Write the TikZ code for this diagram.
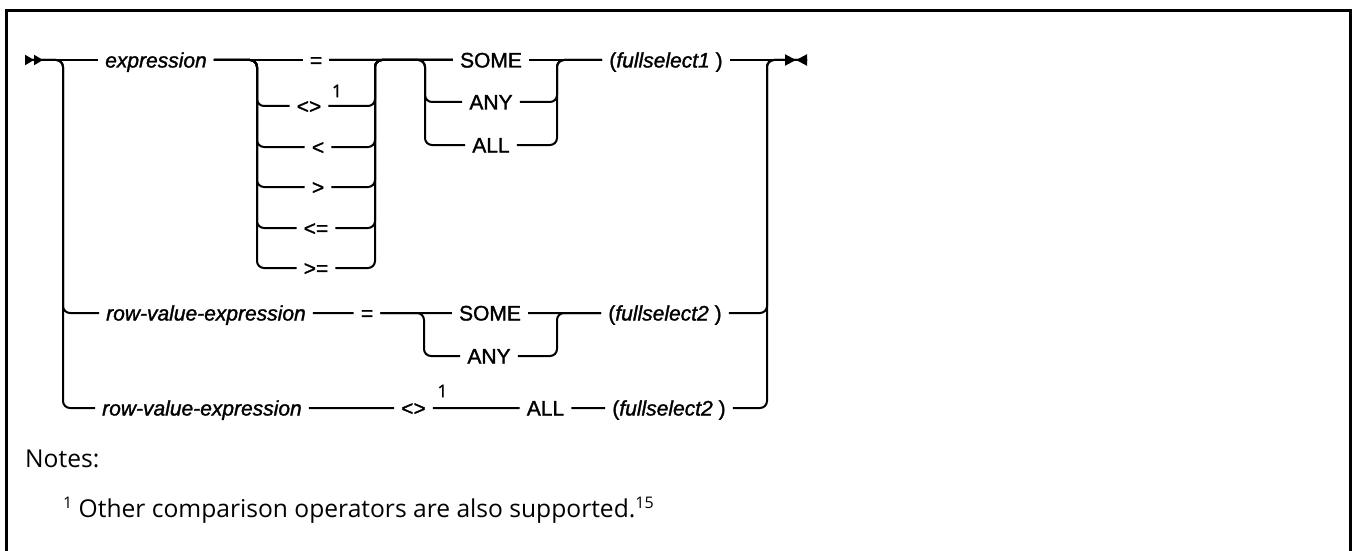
\documentclass[tikz,border=0pt]{standalone}
\usepackage{fontspec}
\setmainfont{Liberation Sans}
\newfontfamily\railfont{Liberation Sans}[FakeBold=1.4]
\newfontfamily\notefont{Open Sans}
\newfontfamily\supfont{Open Sans}[FakeBold=1.2]
\newcommand\notesup[1]{\raisebox{9pt}{\fontsize{16}{18}\selectfont #1}}
\usetikzlibrary{arrows.meta}

\begin{document}
\begin{tikzpicture}[
        x=1pt, y=-1pt,
        rail/.style={line width=2pt, rounded corners=7pt},
        kw/.style={inner xsep=7pt, inner ysep=0pt, text height=15pt, text depth=0pt, font=\railfont\fontsize{21}{25}\selectfont},
        sup/.style={inner sep=0pt, font=\supfont\fontsize{17.5}{20}\selectfont},
        note/.style={inner sep=0pt, font=\notefont\fontsize{24.6}{29}\selectfont},
        startmark/.style={{Triangle[reversed,length=9pt,width=10pt]Triangle[reversed,length=9pt,width=10pt]}-},
        endmark/.style={-{Triangle[length=11pt,width=11pt]Triangle[reversed,length=11pt,width=11pt]}}
    ]

    \useasboundingbox (0,0) rectangle (1353,551);
    \draw[line width=3pt] (6,570) -- (6,11) -- (1350,11) -- (1350,570);

    % Rail columns
    \coordinate (start) at (25,60);
    \coordinate (endm) at (807,60);
    \coordinate (L) at (63,60);
    \coordinate (R) at (767,60);
    \coordinate (opL) at (257,60);
    \coordinate (opR) at (375,60);
    \coordinate (sL) at (425,60);
    \coordinate (sR) at (557,60);

    % First row
    \node (expr) [kw] at (156,60) {\textit{expression}};
    \node (op1) [kw] at (316,60) {=};
    \node (op2) [kw] at (309,106) {<>};
    \node (op3) [kw] at (318,147) {<};
    \node (op4) [kw] at (318,187) {>};
    \node (op5) [kw] at (316,228) {<=};
    \node (op6) [kw] at (316,268) {>=};
    \node (n1) [sup] at (337,91) {1};
    \node (some1) [kw] at (491,60) {SOME};
    \node (any1) [kw] at (491,102) {ANY};
    \node (all1) [kw] at (491,145) {ALL};
    \node (fs1) [kw] at (666,60) {(\textit{fullselect1} )};

    % Second row
    \node (rv2) [kw, anchor=west] at (99,313) {\textit{row-value-expression}\hspace{11pt}};
    \node (eq2) [kw] at (367,313) {=};
    \node (some2) [kw] at (490,313) {SOME};
    \node (any2) [kw] at (489,356) {ANY};
    \node (fs2) [kw] at (665,313) {(\textit{fullselect2} )};
    \coordinate (sL2) at (424,313);
    \coordinate (sR2) at (557,313);

    % Third row
    \node (rv3) [kw, anchor=west] at (95,408) {\textit{row-value-expression}\hspace{11pt}};
    \node (ne3) [kw] at (413.5,408) {<>};
    \node (n3) [sup] at (442.5,391) {1};
    \node (all3) [kw] at (545.5,408) {ALL};
    \node (fs3) [kw] at (669,408) {(\textit{fullselect2} )};

    % The rails
    \draw[rail, startmark] (start) -- (expr);
    \draw[rail] (expr) -- (op1) -- (some1) -- (fs1);
    \draw[rail, endmark] (fs1) -- (endm);
    \foreach \k in {2,...,6}
        \draw[rail] (expr) -| (opL |- op\k) -- (op\k) -- (opR |- op\k) -- (opR) -- (some1);
    \foreach \w in {any1, all1}
        \draw[rail] (op1) -| (sL |- \w) -- (\w) -| (sR) -- (fs1);

    \draw[rail] (start) -| (L |- rv2) -- (rv2);
    \draw[rail] (rv2) -- (eq2) -- (some2) -- (fs2) -| (R) -- (endm);
    \draw[rail] (eq2) -| (sL2 |- any2) -- (any2) -| (sR2) -- (fs2);

    \draw[rail] (start) -| (L |- rv3) -- (rv3);
    \draw[rail] (rv3) -- (ne3) -- (all3) -- (fs3) -| (R) -- (endm);

    % Notes
    \node (notes) [note, anchor=base west] at (25,467) {Notes:};
    \node (fn) [note, anchor=base west] at (63,517) {\notesup{1} Other comparison operators are also supported.\notesup{15}};

\end{tikzpicture}
\end{document}
